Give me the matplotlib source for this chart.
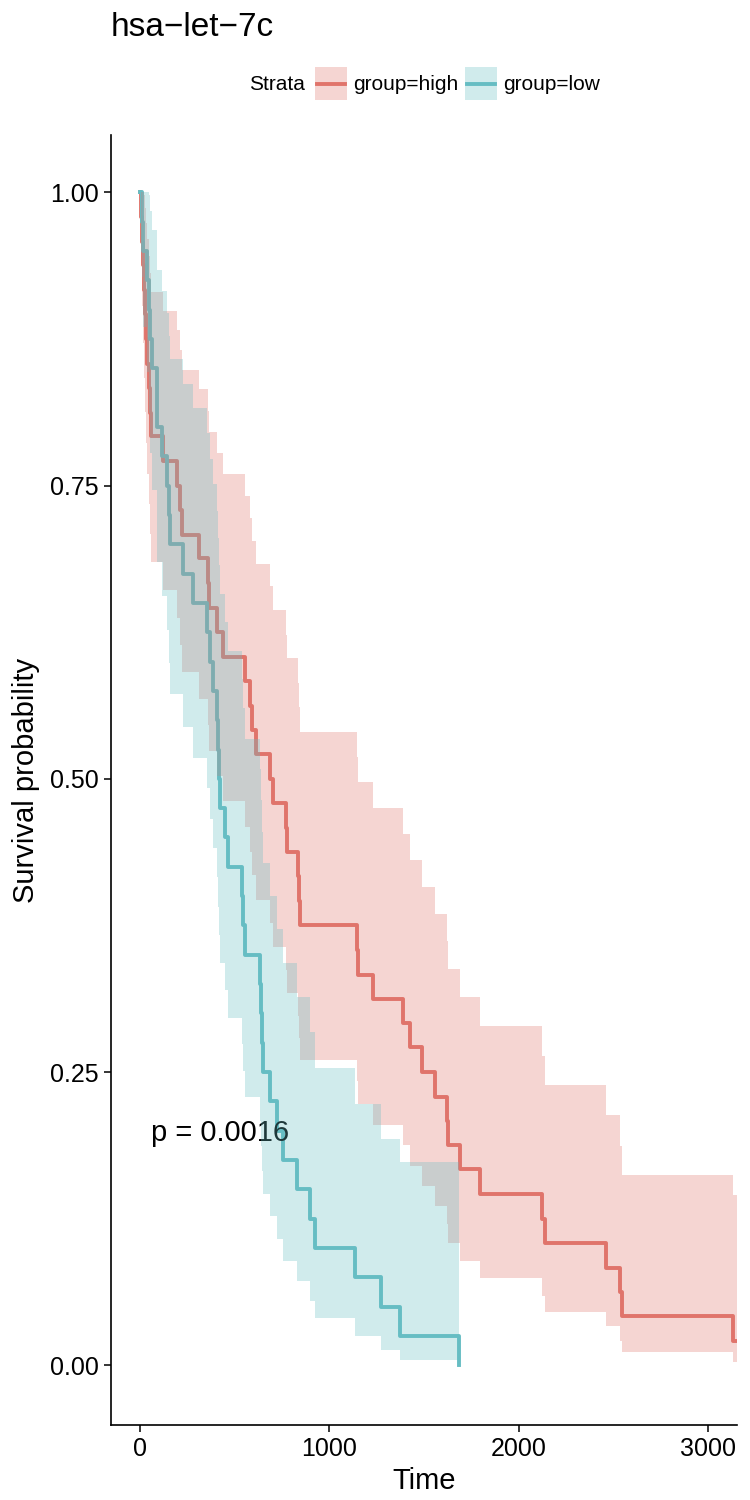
"""
plot.py

Kaplan-Meier curves for hsa-let-7c, high vs low expression group,
with step confidence bands and log-rank p value.

Output:
- out.png
"""

import matplotlib
matplotlib.use("Agg")
import matplotlib.pyplot as plt
from matplotlib.patches import Rectangle
from matplotlib.lines import Line2D

# ---- group=high (48 patients, one censored at the end) ----
time_high = [5, 11, 16, 21, 26, 32, 37, 48, 53, 58,
             122, 195, 211, 222, 312, 359, 366, 407, 438, 555,
             581, 592, 613, 687, 703, 771, 777, 835, 840, 845,
             1146, 1152, 1231, 1389, 1426, 1490, 1558, 1622, 1627, 1690,
             1796, 2124, 2139, 2462, 2536, 2546, 3133]
surv_high = [0.979, 0.958, 0.938, 0.917, 0.896, 0.875, 0.854, 0.833, 0.812, 0.792,
             0.771, 0.750, 0.729, 0.708, 0.688, 0.667, 0.646, 0.625, 0.604, 0.583,
             0.562, 0.542, 0.521, 0.500, 0.479, 0.458, 0.438, 0.417, 0.396, 0.375,
             0.354, 0.333, 0.312, 0.292, 0.271, 0.250, 0.229, 0.208, 0.188, 0.167,
             0.146, 0.125, 0.104, 0.083, 0.062, 0.042, 0.021]
upper_high = [1.000, 1.000, 1.000, 0.998, 0.987, 0.974, 0.960, 0.946, 0.931, 0.915,
              0.899, 0.883, 0.866, 0.849, 0.832, 0.814, 0.796, 0.778, 0.760, 0.741,
              0.722, 0.703, 0.683, 0.664, 0.644, 0.623, 0.603, 0.582, 0.561, 0.540,
              0.519, 0.497, 0.475, 0.453, 0.431, 0.408, 0.385, 0.362, 0.338, 0.314,
              0.289, 0.264, 0.239, 0.213, 0.187, 0.162, 0.145]
lower_high = [0.940, 0.903, 0.872, 0.842, 0.813, 0.786, 0.760, 0.734, 0.709, 0.685,
              0.661, 0.637, 0.614, 0.591, 0.568, 0.546, 0.524, 0.502, 0.481, 0.459,
              0.438, 0.418, 0.397, 0.377, 0.357, 0.337, 0.317, 0.298, 0.279, 0.260,
              0.242, 0.223, 0.205, 0.188, 0.170, 0.153, 0.136, 0.120, 0.104, 0.089,
              0.074, 0.059, 0.045, 0.033, 0.021, 0.011, 0.003]
last_high = 3154  # censored

# ---- group=low (40 patients, all events) ----
time_low = [11, 16, 37, 48, 53, 63, 88, 90, 116, 143,
            153, 158, 227, 280, 354, 370, 386, 407, 412, 417,
            423, 449, 465, 539, 544, 555, 634, 639, 644, 650,
            687, 724, 755, 829, 898, 924, 1136, 1273, 1373, 1685]
surv_low = [0.975, 0.950, 0.925, 0.900, 0.875, 0.850, 0.825, 0.800, 0.775, 0.750,
            0.725, 0.700, 0.675, 0.650, 0.625, 0.600, 0.575, 0.550, 0.525, 0.500,
            0.475, 0.450, 0.425, 0.400, 0.375, 0.350, 0.325, 0.300, 0.275, 0.250,
            0.225, 0.200, 0.175, 0.150, 0.125, 0.100, 0.075, 0.050, 0.025, 0.000]
# no band once survival hits 0, so one value less
upper_low = [1.000, 1.000, 1.000, 0.998, 0.984, 0.968, 0.952, 0.934, 0.916, 0.897,
             0.878, 0.858, 0.837, 0.816, 0.795, 0.773, 0.751, 0.728, 0.705, 0.682,
             0.658, 0.634, 0.609, 0.585, 0.560, 0.534, 0.508, 0.482, 0.455, 0.428,
             0.400, 0.372, 0.343, 0.314, 0.284, 0.253, 0.223, 0.193, 0.173]
lower_low = [0.928, 0.885, 0.847, 0.812, 0.778, 0.746, 0.715, 0.685, 0.656, 0.627,
             0.599, 0.572, 0.544, 0.518, 0.492, 0.466, 0.441, 0.416, 0.391, 0.367,
             0.343, 0.320, 0.296, 0.274, 0.251, 0.229, 0.208, 0.187, 0.166, 0.146,
             0.127, 0.108, 0.089, 0.072, 0.055, 0.040, 0.025, 0.013, 0.004]

strata = ["group=high", "group=low"]
colors = ["#E0746B", "#66BDC3"]
pval_text = "p = 0.0016"
y_ticks = [0.0, 0.25, 0.5, 0.75, 1.0]
y_ticklabels = ["0.00", "0.25", "0.50", "0.75", "1.00"]
x_ticks = [0, 1000, 2000, 3000]

FONT = ["Liberation Sans", "DejaVu Sans"]
W, H = 750, 1500


def fx(px):
    return px / W


def fy(py):
    return 1 - py / H


def main():
    plt.rcParams["font.family"] = FONT
    fig = plt.figure(figsize=(7.5, 15), dpi=100)
    ax = fig.add_axes([fx(111), fy(1425), (737 - 111) / W, (1425 - 135) / H])

    # curves first, bands drawn on top (as survminer does)
    x_h = [0] + time_high + [last_high]
    y_h = [1.0] + surv_high + [surv_high[-1]]
    ax.step(x_h, y_h, where="post", color=colors[0], lw=2.8, zorder=2)

    x_l = [0] + time_low
    y_l = [1.0] + surv_low
    ax.step(x_l, y_l, where="post", color=colors[1], lw=2.8, zorder=2)

    ax.fill_between(x_h, [1.0] + lower_high + [lower_high[-1]],
                    [1.0] + upper_high + [upper_high[-1]],
                    step="post", color=colors[0], alpha=0.3, lw=0, zorder=3)

    x_lb = [0] + time_low[:-1] + [time_low[-1]]
    ax.fill_between(x_lb, [1.0] + lower_low + [lower_low[-1]],
                    [1.0] + upper_low + [upper_low[-1]],
                    step="post", color=colors[1], alpha=0.3, lw=0, zorder=4)

    ax.text(60, 0.198, pval_text, fontsize=21, ha="left", va="center")

    ax.set_xlim(-153, 3154)
    ax.set_ylim(-0.051, 1.049)
    ax.set_xticks(x_ticks)
    ax.set_yticks(y_ticks)
    ax.set_yticklabels(y_ticklabels)
    ax.tick_params(length=5, width=1.1, labelsize=18, pad=4, color="black")
    for side in ["top", "right"]:
        ax.spines[side].set_visible(False)
    for side in ["left", "bottom"]:
        ax.spines[side].set_linewidth(1.2)

    ax.set_xlabel("Time", fontsize=21, labelpad=4)
    ax.set_ylabel("Survival probability", fontsize=21, labelpad=7)

    # title and legend on top
    fig.text(fx(111), fy(27), "hsa\u2212let\u22127c", fontsize=24,
             ha="left", va="center")
    fig.text(fx(249), fy(84), "Strata", fontsize=15, ha="left", va="center")
    key_x = [315, 465]
    for i, name in enumerate(strata):
        kx = key_x[i]
        fig.patches.append(Rectangle((fx(kx), fy(100)), 32 / W, 33 / H,
                                     transform=fig.transFigure,
                                     facecolor=colors[i], alpha=0.3, lw=0))
        fig.lines.append(Line2D([fx(kx + 2), fx(kx + 30)], [fy(84), fy(84)],
                                transform=fig.transFigure,
                                color=colors[i], lw=2.8))
        fig.text(fx(kx + 38), fy(84), name, fontsize=15,
                 ha="left", va="center")

    fig.savefig("out.png", dpi=100)
    plt.close(fig)


if __name__ == "__main__":
    main()
